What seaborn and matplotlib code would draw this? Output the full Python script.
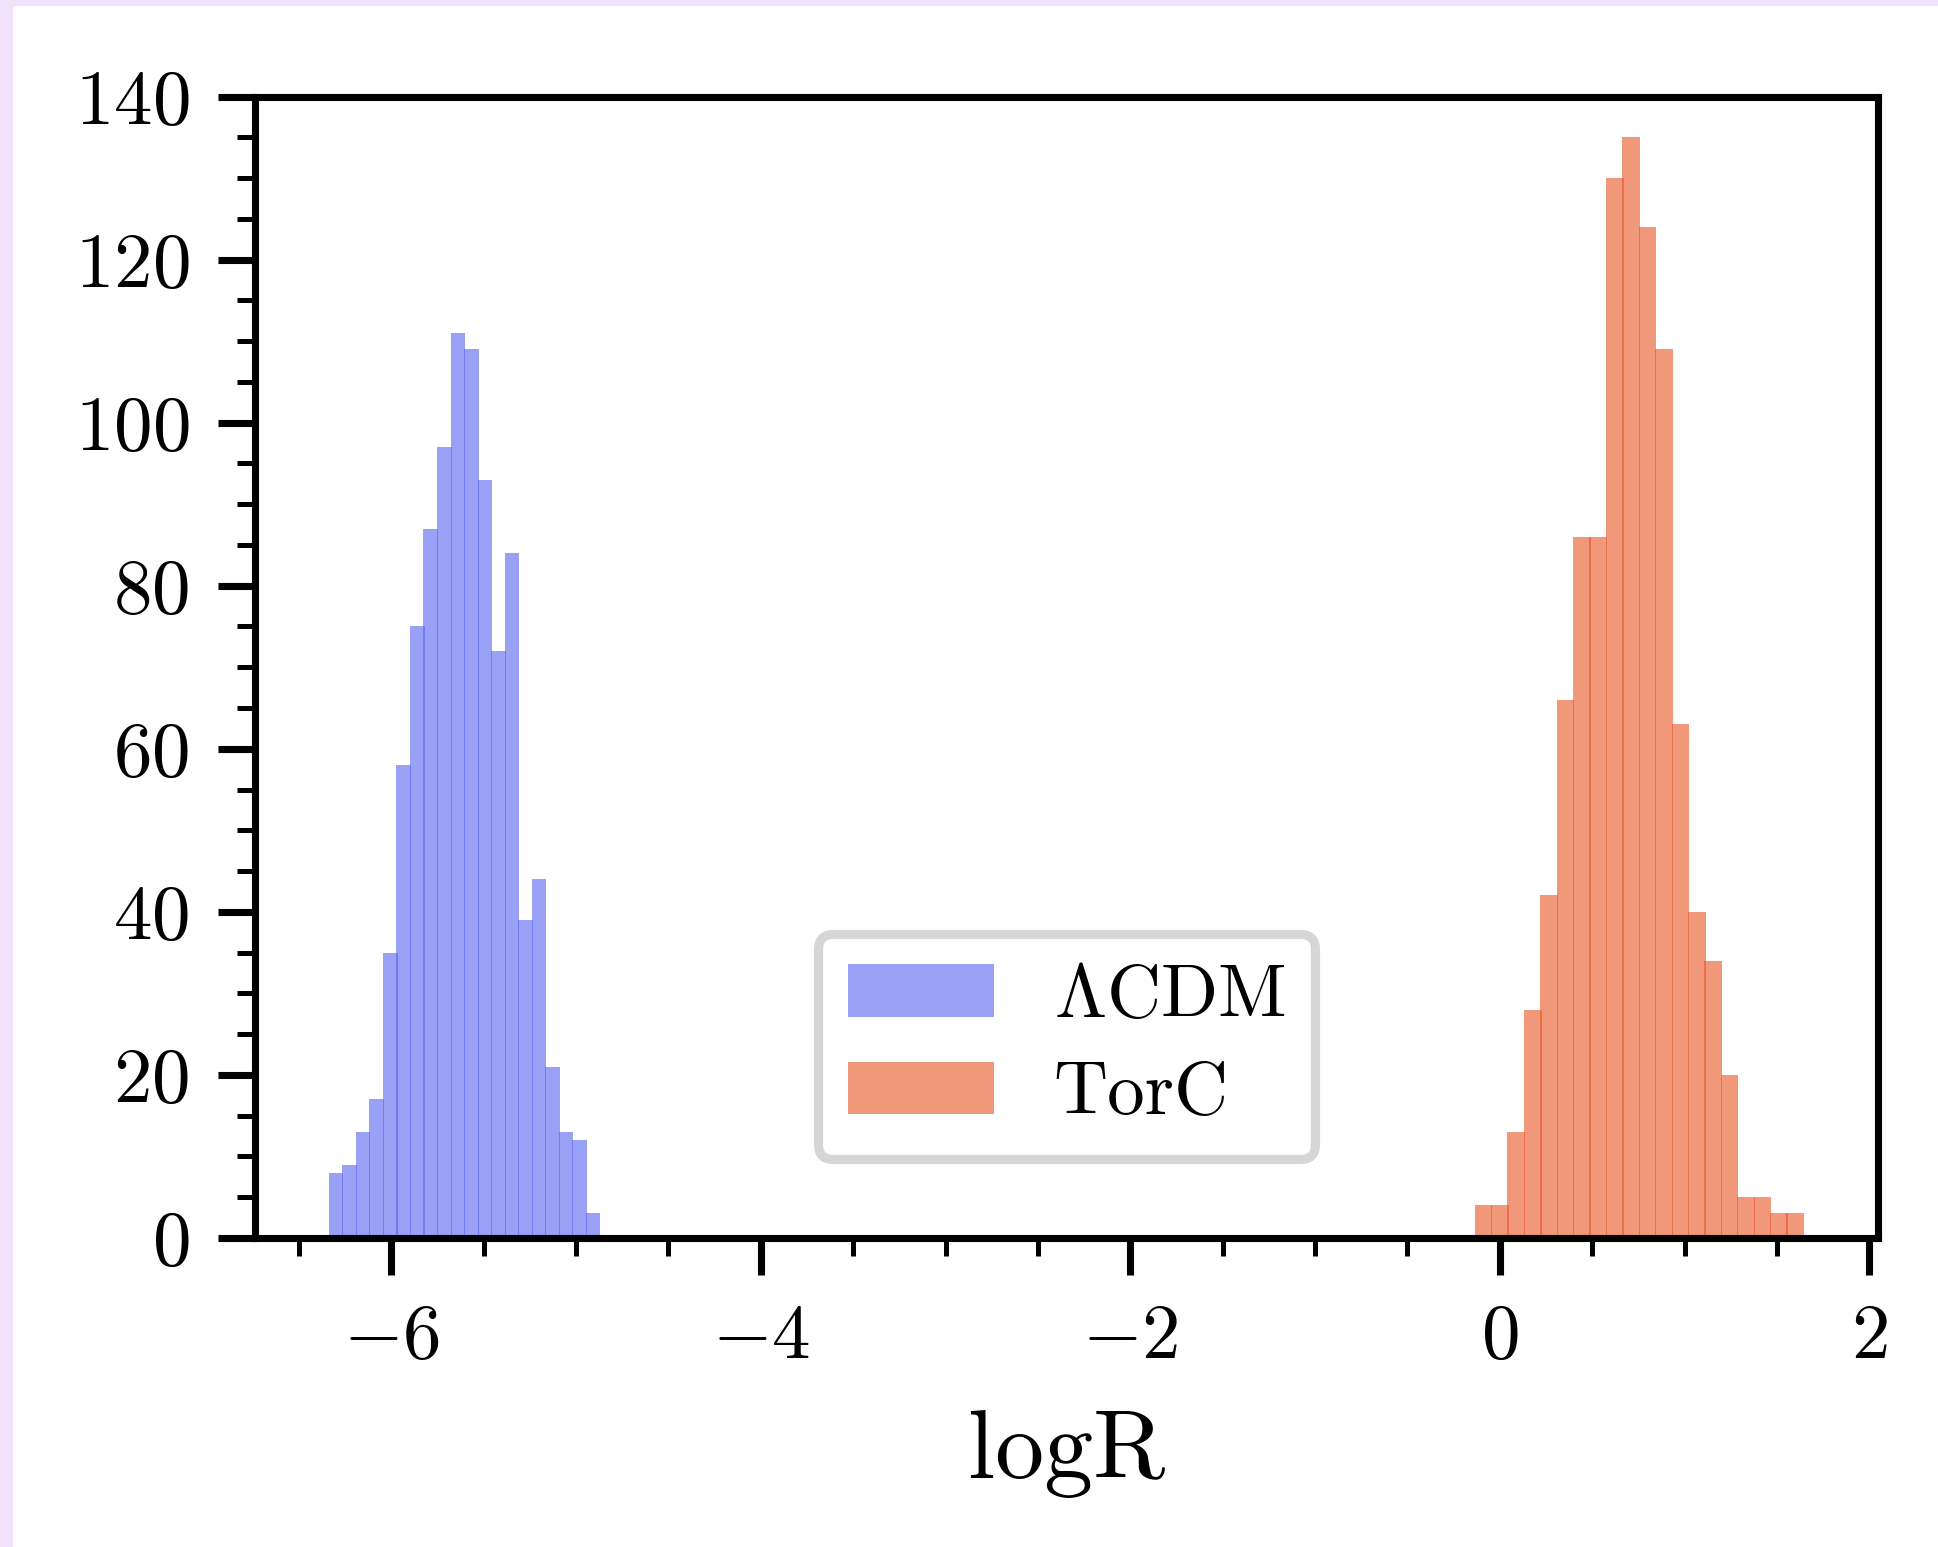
import numpy as np
import pandas as pd
import matplotlib.pyplot as plt
import matplotlib.ticker as mticker
from matplotlib.patches import Rectangle
import seaborn as sns

# histogram counts (20 bins per model)
lcdm_counts = [8, 9, 13, 17, 35, 58, 75, 87, 97, 111,
               109, 93, 72, 84, 39, 44, 21, 13, 12, 3]
lcdm_range = (-6.335, -4.871)
torc_counts = [4, 4, 13, 28, 42, 66, 86, 86, 130, 135,
               124, 109, 63, 40, 34, 20, 5, 5, 3, 3]
torc_range = (-0.133, 1.644)
labels = [r'$\Lambda$CDM', 'TorC']
colors = ['#5562f3', '#e95321']


def bin_table(counts, rng):
    edges = np.linspace(rng[0], rng[1], len(counts) + 1)
    centers = (edges[:-1] + edges[1:]) / 2
    return pd.DataFrame({'logR': centers, 'count': counts})


sns.set_style('ticks')
plt.rcParams['font.family'] = 'serif'
plt.rcParams['font.serif'] = ['cmr10']
plt.rcParams['mathtext.fontset'] = 'cm'
plt.rcParams['axes.formatter.use_mathtext'] = True
plt.rcParams['axes.unicode_minus'] = True
plt.rcParams['axes.edgecolor'] = 'black'
plt.rcParams['axes.labelcolor'] = 'black'
plt.rcParams['text.color'] = 'black'
plt.rcParams['xtick.color'] = 'black'
plt.rcParams['ytick.color'] = 'black'

fig = plt.figure(figsize=(6.46, 5.1567), dpi=300)
fig.patch.set_facecolor('#f0e2fc')
fig.add_artist(Rectangle((13 / 1938, 0), 1, 1 - 6 / 1547, transform=fig.transFigure,
                         facecolor='white', edgecolor='none', zorder=-10))
ax = fig.add_axes([0.1316, 0.1998, 0.9690 - 0.1316, 0.9376 - 0.1998])

for counts, rng, lab, col in zip([lcdm_counts, torc_counts], [lcdm_range, torc_range],
                                 labels, colors):
    df = bin_table(counts, rng)
    sns.histplot(data=df, x='logR', weights='count', bins=len(counts), binrange=rng,
                 color=col, alpha=0.6, linewidth=0, shrink=1.08, label=lab, ax=ax)

ax.set_ylim(0, 140)
ax.set_xlabel('logR', fontsize=23.5, labelpad=9)
ax.set_ylabel('')
ax.xaxis.set_minor_locator(mticker.MultipleLocator(0.5))
ax.yaxis.set_major_locator(mticker.MultipleLocator(20))
ax.yaxis.set_minor_locator(mticker.MultipleLocator(5))
ax.tick_params(which='major', direction='out', length=8.8, width=1.7, labelsize=18.5, pad=7)
ax.tick_params(which='minor', direction='out', length=4.3, width=1.2)
for sp in ax.spines.values():
    sp.set_linewidth(1.7)

leg = ax.legend(loc='lower center', fontsize=18, borderaxespad=1.05, labelspacing=0.4,
                handlelength=1.95, fancybox=True, framealpha=1)
leg.get_frame().set_edgecolor('#d6d6d6')
leg.get_frame().set_linewidth(2.2)

fig.savefig('out.png', dpi=300, facecolor=fig.get_facecolor())
